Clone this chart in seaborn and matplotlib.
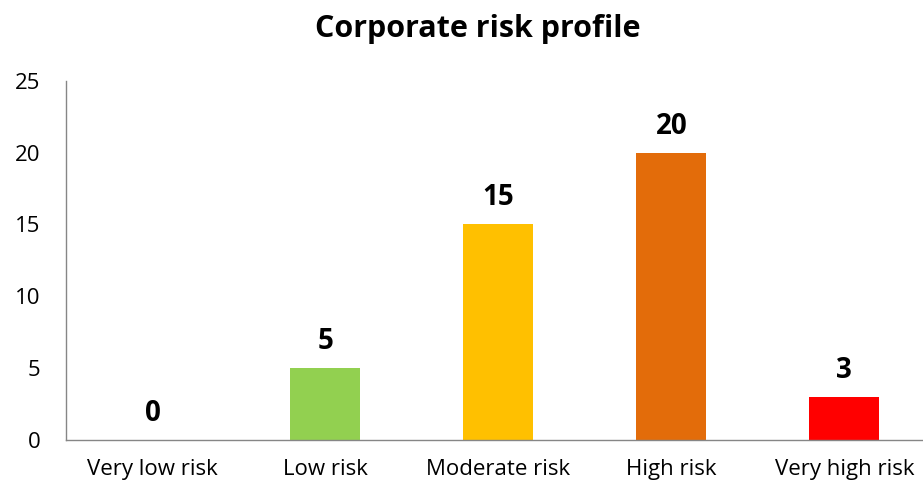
import numpy as np
import matplotlib.pyplot as plt
import pandas as pd
import seaborn as sns
from matplotlib.ticker import FixedLocator, MultipleLocator

# data
categories = ['Very low risk', 'Low risk', 'Moderate risk', 'High risk', 'Very high risk']
counts = [0, 5, 15, 20, 3]
bar_colors = ['#00B050', '#92D050', '#FFC000', '#E36C0A', '#FF0000']

sns.set_theme(style='white')
plt.rcParams['font.family'] = ['Open Sans', 'DejaVu Sans']

df = pd.DataFrame({'category': categories, 'count': counts})

fig = plt.figure(figsize=(9.23, 4.86), dpi=100)
ax = fig.add_axes([0.0715, 0.0947, 0.937, 0.739])

sns.barplot(data=df, x='category', y='count', hue='category',
            palette=bar_colors, legend=False, width=0.405,
            saturation=1, linewidth=0, ax=ax)

ax.set_xlim(-0.5, len(categories) - 0.5)
ax.set_ylim(0, 25)
ax.yaxis.set_major_locator(MultipleLocator(5))
ax.set_xlabel('')
ax.set_ylabel('')

# axes styling
for side in ['top', 'right']:
    ax.spines[side].set_visible(False)
for side in ['left', 'bottom']:
    ax.spines[side].set_color('#868686')
    ax.spines[side].set_linewidth(1)

ax.tick_params(axis='y', which='major', direction='out', length=4.5,
               color='#868686', width=1, labelsize=16, labelcolor='black', pad=14)
ax.tick_params(axis='x', which='major', length=0, labelsize=16,
               labelcolor='black', pad=13.5)
ax.xaxis.set_minor_locator(FixedLocator(np.arange(-0.5, len(categories), 1.0)))
ax.tick_params(axis='x', which='minor', direction='out', length=4.5,
               color='#868686', width=1)

# value labels
for i, v in enumerate(counts):
    ax.annotate(str(v), (i, v), xytext=(0, 13.7), textcoords='offset points',
                ha='center', va='baseline', fontsize=20, fontweight='bold',
                color='black')

fig.text(0.518, 0.94, 'Corporate risk profile', ha='center', va='center',
         fontsize=22, fontweight='bold', color='black')

fig.savefig('out.png', dpi=100)
